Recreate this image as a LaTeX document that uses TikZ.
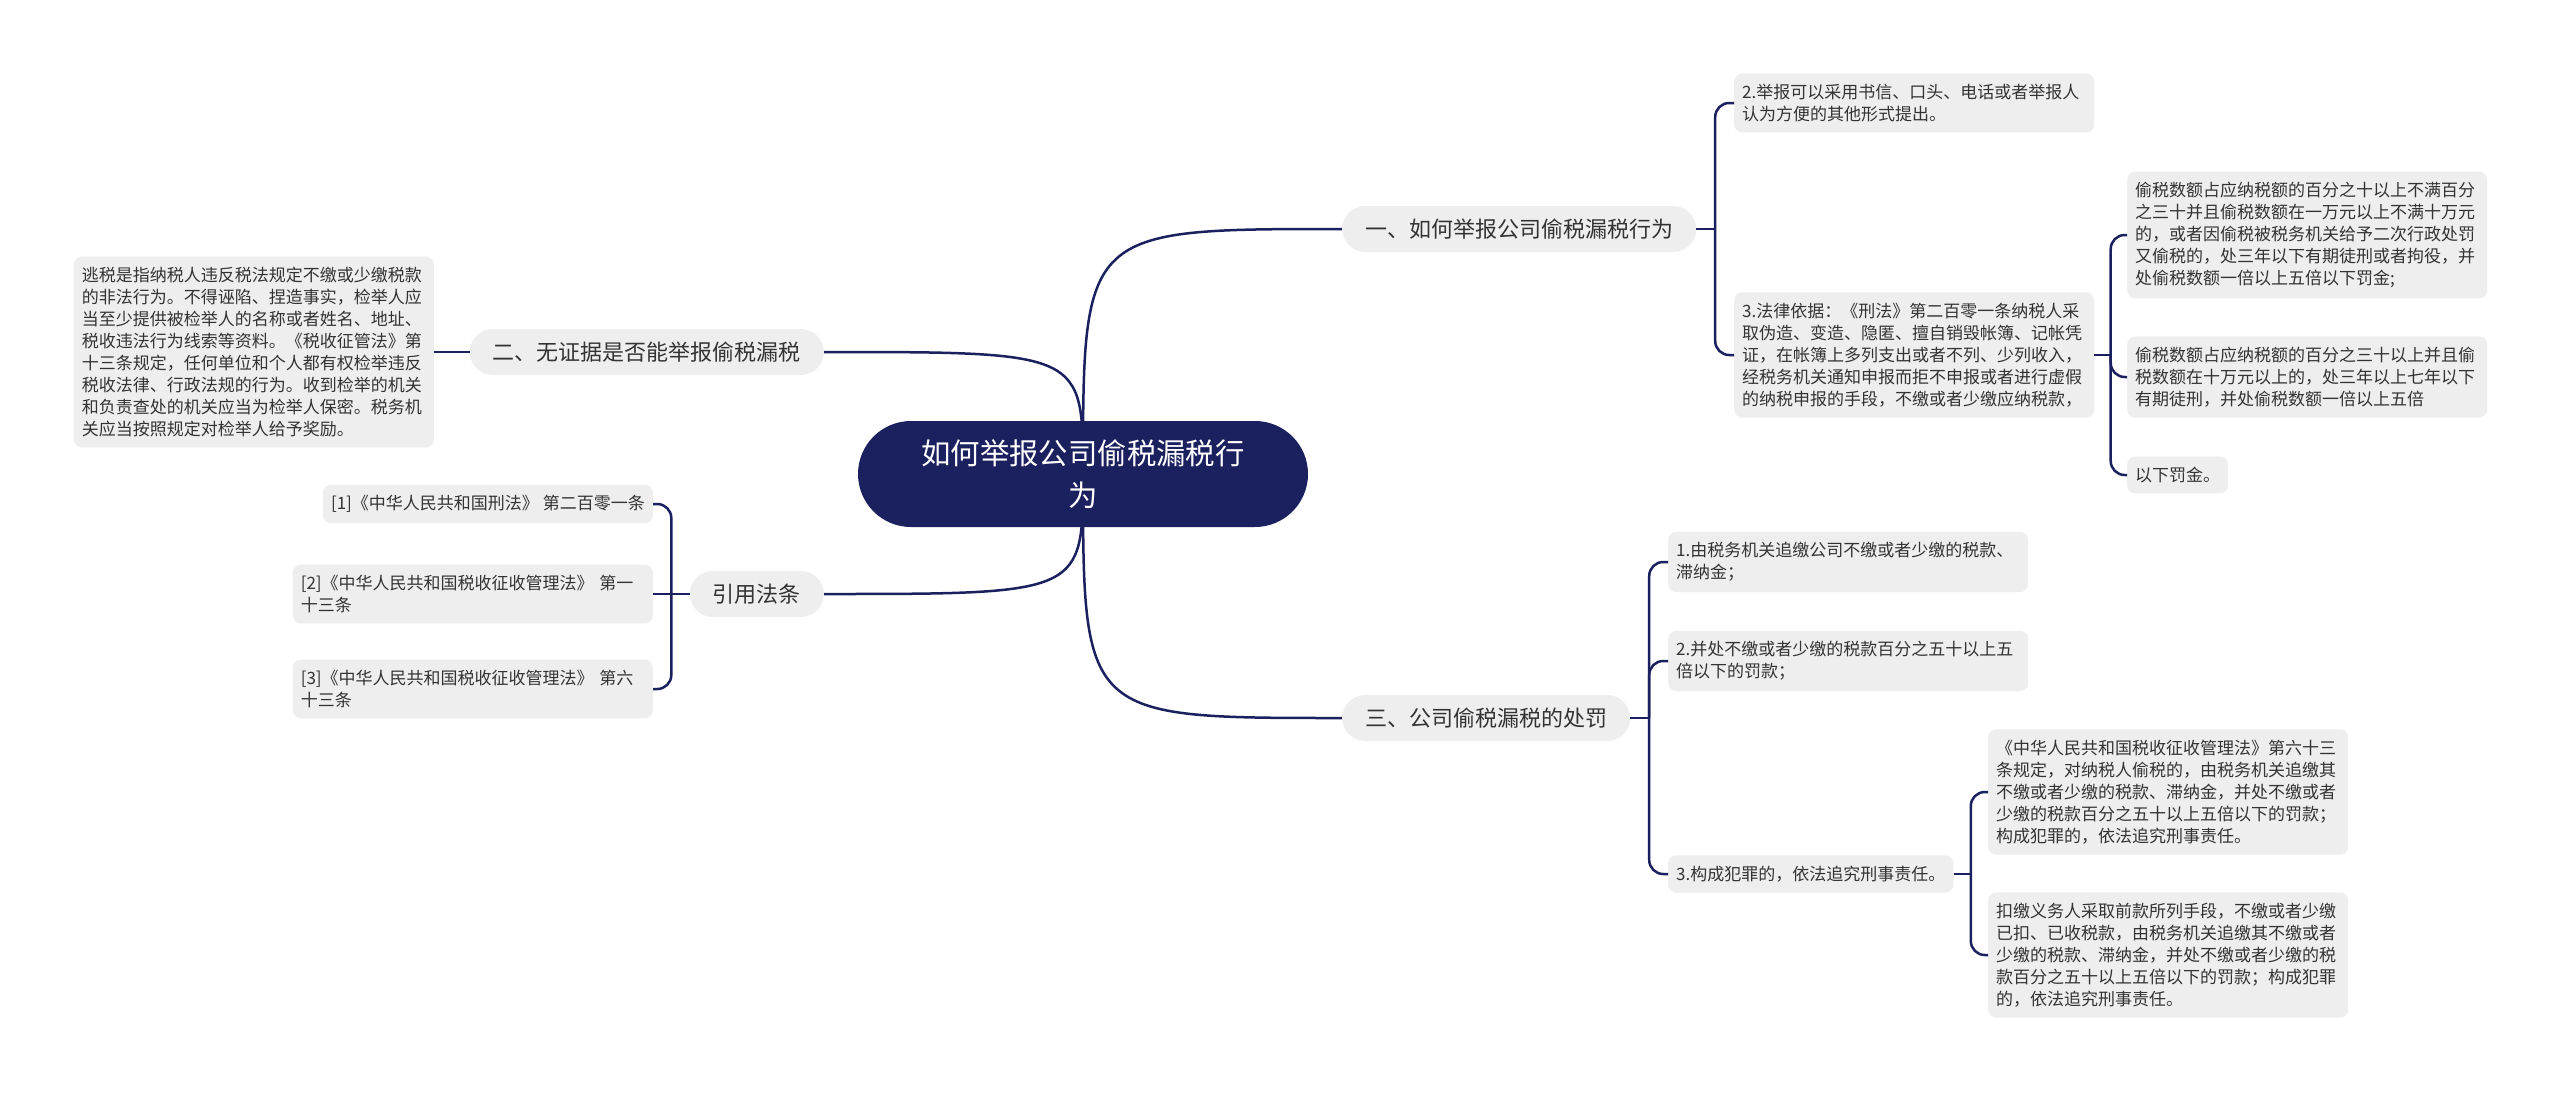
\documentclass[tikz,border=0pt]{standalone}
\usepackage{fontspec}
\newfontfamily\cjk{Noto Sans CJK SC}
\usetikzlibrary{backgrounds,calc}
\definecolor{navy}{HTML}{1B215E}
\definecolor{boxgray}{HTML}{EEEEEE}
\definecolor{inkgray}{HTML}{333333}

\begin{document}
\begin{tikzpicture}[
    x=1pt, y=-1pt,
    root/.style={
        fill=navy, text=white,
        rounded corners=53pt,
        minimum width=450pt,
        minimum height=106pt,
        align=center,
        font=\cjk\fontsize{29.4}{42}\selectfont
    },
    topic/.style={
        fill=boxgray, text=inkgray,
        rounded corners=23pt,
        inner xsep=23pt, inner ysep=0pt,
        minimum height=46pt,
        font=\cjk\fontsize{22}{26}\selectfont
    },
    leaf/.style={
        fill=boxgray, text=inkgray,
        rounded corners=8pt,
        inner xsep=8pt, inner ysep=10.5pt,
        align=left,
        font=\cjk\fontsize{17}{22}\selectfont
    },
    leafw/.style={leaf, text width=344pt},
    link/.style={draw=navy, line width=2.5pt},
    elbow/.style={link, rounded corners=14pt}
]
    \begin{scope}[on background layer]
        \fill[white] (0,0) rectangle (2560,1093);
    \end{scope}
    \useasboundingbox (0,0) rectangle (2560,1093);

    \node[root] (cen) at (1083,474) {如何举报公司偷税漏税行\\为};

    \node[topic, anchor=west] (yi) at (1342,229) {一、如何举报公司偷税漏税行为};
    \node[topic, anchor=east] (er) at (824,352) {二、无证据是否能举报偷税漏税};
    \node[topic, anchor=east] (yin) at (824,594) {引用法条};
    \node[topic, anchor=west] (san) at (1342,718) {三、公司偷税漏税的处罚};

    \node[leafw, anchor=east] (evade) at (434,352)
        {逃税是指纳税人违反税法规定不缴或少缴税款\\的非法行为。不得诬陷、捏造事实，检举人应\\当至少提供被检举人的名称或者姓名、地址、\\税收违法行为线索等资料。《税收征管法》第\\十三条规定，任何单位和个人都有权检举违反\\税收法律、行政法规的行为。收到检举的机关\\和负责查处的机关应当为检举人保密。税务机\\关应当按照规定对检举人给予奖励。};

    \node[leaf, anchor=east] (ref1) at (653,504)
        {{[1]}《中华人民共和国刑法》~第二百零一条};
    \node[leafw, anchor=east] (ref2) at (653,594)
        {{[2]}《中华人民共和国税收征收管理法》~第一\\十三条};
    \node[leafw, anchor=east] (ref3) at (653,689)
        {{[3]}《中华人民共和国税收征收管理法》~第六\\十三条};

    \node[leafw, anchor=west] (yi2) at (1734,103)
        {2.举报可以采用书信、口头、电话或者举报人\\认为方便的其他形式提出。};
    \node[leafw, anchor=west] (yi3) at (1734,355)
        {3.法律依据：《刑法》第二百零一条纳税人采\\取伪造、变造、隐匿、擅自销毁帐簿、记帐凭\\证，在帐簿上多列支出或者不列、少列收入，\\经税务机关通知申报而拒不申报或者进行虚假\\的纳税申报的手段，不缴或者少缴应纳税款，};
    \node[leafw, anchor=west] (yi3a) at (2127,235)
        {偷税数额占应纳税额的百分之十以上不满百分\\之三十并且偷税数额在一万元以上不满十万元\\的，或者因偷税被税务机关给予二次行政处罚\\又偷税的，处三年以下有期徒刑或者拘役，并\\处偷税数额一倍以上五倍以下罚金;};
    \node[leafw, anchor=west] (yi3b) at (2127,377)
        {偷税数额占应纳税额的百分之三十以上并且偷\\税数额在十万元以上的，处三年以上七年以下\\有期徒刑，并处偷税数额一倍以上五倍};
    \node[leaf, anchor=west] (yi3c) at (2127,475) {以下罚金。};

    \node[leafw, anchor=west] (san1) at (1668,562)
        {1.由税务机关追缴公司不缴或者少缴的税款、\\滞纳金；};
    \node[leafw, anchor=west] (san2) at (1668,661)
        {2.并处不缴或者少缴的税款百分之五十以上五\\倍以下的罚款；};
    \node[leaf, anchor=west] (san3) at (1668,874) {3.构成犯罪的，依法追究刑事责任。};
    \node[leafw, anchor=west] (san3a) at (1988,792)
        {《中华人民共和国税收征收管理法》第六十三\\条规定，对纳税人偷税的，由税务机关追缴其\\不缴或者少缴的税款、滞纳金，并处不缴或者\\少缴的税款百分之五十以上五倍以下的罚款；\\构成犯罪的，依法追究刑事责任。};
    \node[leafw, anchor=west] (san3b) at (1988,955)
        {扣缴义务人采取前款所列手段，不缴或者少缴\\已扣、已收税款，由税务机关追缴其不缴或者\\少缴的税款、滞纳金，并处不缴或者少缴的税\\款百分之五十以上五倍以下的罚款；构成犯罪\\的，依法追究刑事责任。};

    \begin{scope}[on background layer]
        \draw[link] (cen.center) .. controls (cen.center |- yi.west) .. (yi.west);
        \draw[link] (cen.center) .. controls (cen.center |- er.east) .. (er.east);
        \draw[link] (cen.center) .. controls (cen.center |- yin.east) .. (yin.east);
        \draw[link] (cen.center) .. controls (cen.center |- san.west) .. (san.west);
    \end{scope}

    \coordinate (yiJ) at ($(yi.east)!.5!(yi.east -| yi2.west)$);
    \coordinate (yi3J) at ($(yi3.east)!.5!(yi3.east -| yi3a.west)$);
    \coordinate (sanJ) at ($(san.east)!.5!(san.east -| san1.west)$);
    \coordinate (san3J) at ($(san3.east)!.5!(san3.east -| san3a.west)$);
    \coordinate (yinJ) at ($(yin.west)!.5!(yin.west -| ref1.east)$);

    \draw[link] (er.west) -- (evade.east);

    \draw[link] (yi.east) -- (yiJ);
    \foreach \c in {yi2,yi3} \draw[elbow] (yiJ) |- (\c.west);

    \draw[link] (yi3.east) -- (yi3J);
    \foreach \c in {yi3a,yi3b,yi3c} \draw[elbow] (yi3J) |- (\c.west);

    \draw[link] (san.east) -- (sanJ);
    \foreach \c in {san1,san2,san3} \draw[elbow] (sanJ) |- (\c.west);

    \draw[link] (san3.east) -- (san3J);
    \foreach \c in {san3a,san3b} \draw[elbow] (san3J) |- (\c.west);

    \draw[link] (yin.west) -- (yinJ);
    \draw[elbow] (yinJ) |- (ref1.east);
    \draw[link] (yinJ) -- (ref2.east);
    \draw[elbow] (yinJ) |- (ref3.east);
\end{tikzpicture}
\end{document}
